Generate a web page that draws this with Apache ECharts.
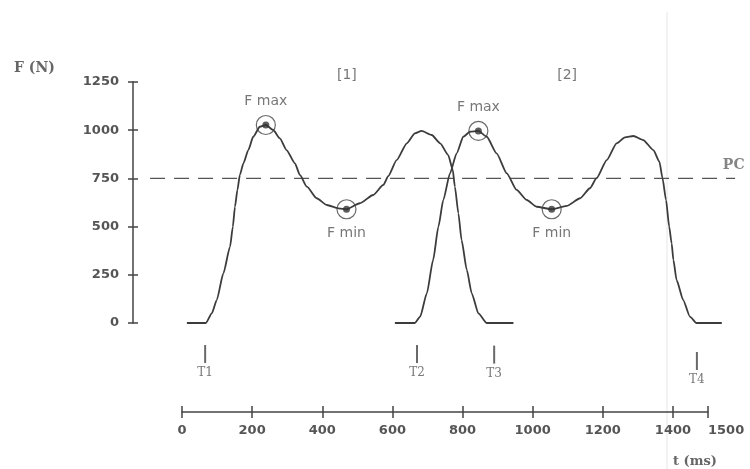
<!DOCTYPE html>
<html>
<head>
<meta charset="utf-8">
<script src="https://cdn.jsdelivr.net/npm/echarts@6/dist/echarts.min.js"></script>
<style>
html,body{margin:0;padding:0;background:#fff;}
#chart{width:750px;height:469px;}
</style>
</head>
<body>
<div id="chart"></div>
<script>
// ---- data ----
const curve1T = [14, 68, 85, 99, 118, 137, 145, 151, 158, 165, 175, 189, 203, 222, 239, 260, 279, 298, 322, 336, 356, 384, 413, 446, 469, 507, 545, 574, 588, 612, 641, 664, 683, 712, 736, 759, 772, 778, 788, 797, 812, 826, 845, 869, 945];
const curve1F = [0, 0, 50, 119, 258, 396, 500, 603, 690, 768, 828, 897, 966, 1018, 1027, 1001, 958, 897, 828, 768, 707, 647, 612, 595, 590, 621, 664, 716, 762, 845, 932, 984, 996, 975, 932, 871, 794, 707, 569, 431, 275, 154, 50, 0, 0];
const curve2T = [607, 664, 679, 698, 716, 731, 745, 764, 783, 802, 821, 845, 869, 897, 926, 954, 983, 1011, 1054, 1097, 1135, 1163, 1182, 1211, 1239, 1263, 1287, 1315, 1344, 1361, 1370, 1380, 1389, 1396, 1401, 1410, 1429, 1448, 1467, 1539];
const curve2F = [0, 0, 33, 154, 327, 500, 638, 776, 880, 966, 992, 996, 966, 880, 776, 690, 638, 603, 590, 607, 647, 699, 751, 845, 932, 963, 970, 949, 897, 837, 751, 638, 500, 413, 327, 223, 119, 33, 0, 0];

const extremaT = [239, 469, 845, 1054];
const extremaF = [1027, 590, 996, 590];
const extremaLabels = ['F max', 'F min', 'F max', 'F min'];

const eventT = [66, 670, 890, 1468];
const eventLabels = ['T1', 'T2', 'T3', 'T4'];

const pcLevel = 750;
const pcLabel = 'PC';
const pcSpanT = [-91, 1577];

const phaseLabels = ['[1]', '[2]'];
const phaseT = [470, 1098];

const xTickInterval = 200, xMin = 0, xMax = 1500;
const yTickInterval = 250, yMin = 0, yMax = 1250;

// ---- layout helpers (not data) ----
// plot panel spans the page from the F axis to the right edge, same ms-per-pixel as the t axis
const panelXMin = -139.7, panelXMax = 1619.4;
const eventMarkF = [-161, -161, -164, -197];
const phaseLabelF = 1286;
const pcLabelPos = [1542, 820];

const ink = '#3c3c3c';
const txt = '#555';

function zip(a, b) { return a.map((v, i) => [v, b[i]]); }

const chart = echarts.init(document.getElementById('chart'), null, {renderer: 'canvas'});

const labelFont = {fontFamily: 'DejaVu Sans', fontWeight: 'bold', fontSize: 13, color: txt, formatter: v => String(v)};
const axisStroke = {color: '#444', width: 1.5};

const baseTAxis = {
  type: 'value', gridIndex: 1, min: xMin, max: xMax, interval: xTickInterval,
  position: 'bottom', splitLine: {show: false}
};
const baseFAxis = {
  type: 'value', gridIndex: 0, min: yMin, max: yMax, interval: yTickInterval,
  position: 'left', splitLine: {show: false}
};

chart.setOption({
  animation: false,
  backgroundColor: '#fff',
  grid: [
    {left: 133, right: 0, top: 82, bottom: 146},
    {left: 182, right: 42, top: 330, bottom: 57}
  ],
  xAxis: [
    {type: 'value', gridIndex: 0, min: panelXMin, max: panelXMax, show: false},
    Object.assign({}, baseTAxis, {
      axisLine: {show: true, onZero: false, lineStyle: axisStroke},
      axisTick: {show: true, length: 6, lineStyle: axisStroke},
      axisLabel: Object.assign({margin: 12, showMaxLabel: true, showMinLabel: true, alignMaxLabel: 'left'}, labelFont)
    }),
    Object.assign({}, baseTAxis, {
      axisLine: {show: false, onZero: false},
      axisTick: {show: true, inside: true, length: 6, lineStyle: axisStroke},
      axisLabel: {show: false, showMaxLabel: true}
    })
  ],
  yAxis: [
    Object.assign({}, baseFAxis, {
      axisLine: {show: true, onZero: false, lineStyle: axisStroke},
      axisTick: {show: true, length: 5, lineStyle: axisStroke},
      axisLabel: Object.assign({margin: 14}, labelFont)
    }),
    Object.assign({}, baseFAxis, {
      axisLine: {show: false, onZero: false},
      axisTick: {show: true, inside: true, length: 5, lineStyle: axisStroke},
      axisLabel: {show: false}
    }),
    {type: 'value', gridIndex: 1, min: 0, max: 1, show: false}
  ],
  graphic: [
    {type: 'line', silent: true, z: -1, shape: {x1: 667, y1: 12, x2: 667, y2: 469}, style: {stroke: '#e6e6e6', lineWidth: 1}},
    {type: 'text', left: 14, top: 61, style: {text: 'F (N)', font: 'bold 14px "DejaVu Serif"', fill: '#666'}},
    {type: 'text', left: 673, top: 455, style: {text: 't (ms)', font: 'bold 13px "DejaVu Serif"', fill: '#666'}}
  ],
  series: [
    {
      name: 'PC', type: 'line', clip: false, symbol: 'none', silent: true,
      xAxisIndex: 0, yAxisIndex: 0,
      data: zip(pcSpanT, [pcLevel, pcLevel]),
      lineStyle: {color: '#555', width: 1.3, type: [15, 9]}
    },
    {
      name: 'step1', type: 'line', clip: false, symbol: 'none', smooth: 0.2, smoothMonotone: 'x',
      xAxisIndex: 0, yAxisIndex: 0,
      data: zip(curve1T, curve1F),
      lineStyle: {color: ink, width: 1.8}
    },
    {
      name: 'step2', type: 'line', clip: false, symbol: 'none', smooth: 0.2, smoothMonotone: 'x',
      xAxisIndex: 0, yAxisIndex: 0,
      data: zip(curve2T, curve2F),
      lineStyle: {color: ink, width: 1.8}
    },
    {
      name: 'extremaRing', type: 'scatter', clip: false, symbol: 'circle', symbolSize: 19, z: 5,
      xAxisIndex: 0, yAxisIndex: 0,
      itemStyle: {color: 'rgba(0,0,0,0)', borderColor: '#444', borderWidth: 1.2},
      data: extremaT.map((t, i) => ({
        name: extremaLabels[i], value: [t, extremaF[i]],
        label: {position: extremaLabels[i] === 'F max' ? 'top' : 'bottom'}
      })),
      label: {show: true, formatter: '{b}', distance: 7, fontFamily: 'DejaVu Sans', fontSize: 14, color: txt}
    },
    {
      name: 'extremaDot', type: 'scatter', clip: false, symbol: 'circle', symbolSize: 7, z: 6,
      xAxisIndex: 0, yAxisIndex: 0,
      itemStyle: {color: '#333'},
      data: zip(extremaT, extremaF)
    },
    {
      name: 'events', type: 'scatter', clip: false, symbol: 'rect', symbolSize: [2, 18],
      xAxisIndex: 0, yAxisIndex: 0,
      itemStyle: {color: '#444'},
      data: eventT.map((t, i) => ({name: eventLabels[i], value: [t, eventMarkF[i]]})),
      label: {show: true, position: 'bottom', distance: 4, formatter: '{b}', fontFamily: 'DejaVu Serif', fontSize: 12, color: txt}
    },
    {
      name: 'annotations', type: 'scatter', clip: false, symbolSize: 0, silent: true,
      xAxisIndex: 0, yAxisIndex: 0,
      data: phaseT.map((t, i) => ({name: phaseLabels[i], value: [t, phaseLabelF]}))
        .concat([{name: pcLabel, value: pcLabelPos, label: {position: 'right', distance: 0, fontFamily: 'DejaVu Serif', fontWeight: 'bold', fontSize: 14, color: '#666'}}]),
      label: {show: true, position: 'inside', formatter: '{b}', fontFamily: 'DejaVu Sans', fontSize: 14, color: txt}
    }
  ]
});
</script>
</body>
</html>
